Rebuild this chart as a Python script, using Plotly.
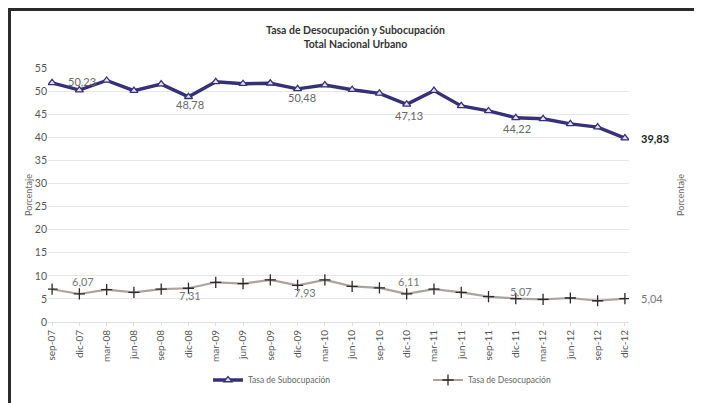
import plotly.graph_objects as go

categories = ["sep-07", "dic-07", "mar-08", "jun-08", "sep-08", "dic-08", "mar-09", "jun-09",
              "sep-09", "dic-09", "mar-10", "jun-10", "sep-10", "dic-10", "mar-11", "jun-11",
              "sep-11", "dic-11", "mar-12", "jun-12", "sep-12", "dic-12"]
subocupacion = [51.8, 50.23, 52.3, 50.1, 51.5, 48.78, 52.0, 51.6, 51.7, 50.48, 51.3, 50.3,
                49.5, 47.13, 50.1, 46.8, 45.7, 44.22, 44.0, 42.9, 42.2, 39.83]
desocupacion = [7.1, 6.07, 7.0, 6.4, 7.1, 7.31, 8.6, 8.3, 9.1, 7.93, 9.1, 7.7, 7.4, 6.11,
                7.1, 6.4, 5.5, 5.07, 4.9, 5.2, 4.6, 5.04]
y_ticks = [0, 5, 10, 15, 20, 25, 30, 35, 40, 45, 50, 55]

title_lines = ["Tasa de Desocupación y Subocupación", "Total Nacional Urbano"]
name_sub = "Tasa de Subocupación"
name_des = "Tasa de Desocupación"
axis_title = "Porcentaje"

# labelled points: index -> (xshift, yshift, anchor)
sub_labels = {1: (3, 9, "center"), 5: (2, -8, "center"), 9: (4, -9, "center"),
              13: (2, -11, "center"), 17: (1, -11, "center"), 21: (14, 0, "left")}
des_labels = {1: (4, 12, "center"), 5: (2, -7, "center"), 9: (7, -7, "center"),
              13: (2, 12, "center"), 17: (5, 7, "center"), 21: (14, 0, "left")}

FONT = "Lato, 'Open Sans', sans-serif"

W, H = 702, 403
ML, MR, MT, MB = 40, 81, 60, 89
PW, PH = W - ML - MR, H - MT - MB


def px_x(p):
    return (p - ML) / PW


def px_y(p):
    return (H - MB - p) / PH


fig = go.Figure()
fig.add_trace(go.Scatter(
    x=categories, y=subocupacion, name=name_sub, mode="lines+markers",
    line=dict(color="#363078", width=3.4),
    marker=dict(symbol="triangle-up", size=7, color="#e4e2f2",
                line=dict(color="#363078", width=1.3)),
))
fig.add_trace(go.Scatter(
    x=categories, y=desocupacion, name=name_des, mode="lines+markers",
    line=dict(color="#ada2a2", width=2.2),
    marker=dict(symbol="cross-thin", size=8, color="#2a2a2a",
                line=dict(color="#2a2a2a", width=1.3)),
))


def fmt(v):
    return f"{v:.2f}".replace(".", ",")


ann = []
for idx, (dx, dy, anc) in sub_labels.items():
    last = idx == len(categories) - 1
    txt = fmt(subocupacion[idx])
    ann.append(dict(x=categories[idx], y=subocupacion[idx],
                    text=("<b>" + txt + "</b>") if last else txt,
                    showarrow=False, xshift=dx, yshift=dy, xanchor=anc,
                    font=dict(family=FONT, size=11,
                              color="#222222" if last else "#666666")))
for idx, (dx, dy, anc) in des_labels.items():
    ann.append(dict(x=categories[idx], y=desocupacion[idx], text=fmt(desocupacion[idx]),
                    showarrow=False, xshift=dx, yshift=dy, xanchor=anc,
                    font=dict(family=FONT, size=11, color="#777777")))

ann.append(dict(xref="paper", yref="paper", x=px_x(347), y=px_y(29.5),
                text="<b>" + "<br>".join(title_lines) + "</b>",
                showarrow=False, yanchor="middle", xanchor="center",
                font=dict(family=FONT, size=10.5, color="#333333")))
ann.append(dict(xref="paper", yref="paper", x=px_x(20), y=0.5, text=axis_title, textangle=-90,
                showarrow=False, xanchor="center", font=dict(family=FONT, size=9, color="#666666")))
ann.append(dict(xref="paper", yref="paper", x=px_x(672), y=0.5, text=axis_title, textangle=-90,
                showarrow=False, xanchor="center", font=dict(family=FONT, size=9, color="#666666")))

fig.update_layout(
    width=W, height=H,
    margin=dict(l=ML, r=MR, t=MT, b=MB, autoexpand=False),
    paper_bgcolor="white", plot_bgcolor="white",
    font=dict(family=FONT, color="#555555"),
    showlegend=True,
    legend=dict(orientation="h", x=px_x(200), xanchor="left", y=px_y(372), yanchor="middle",
                font=dict(family=FONT, size=8.5, color="#666666"),
                entrywidth=175, entrywidthmode="pixels", tracegroupgap=0,
                bgcolor="rgba(0,0,0,0)"),
    annotations=ann,
    shapes=[dict(type="rect", xref="paper", yref="paper", x0=px_x(1.5), x1=1.3,
                 y0=-0.6, y1=px_y(1.5), line=dict(color="#2b2b2b", width=3),
                 fillcolor="rgba(0,0,0,0)", layer="below")],
)
fig.update_xaxes(type="category", range=[-0.15, 21.15], tickangle=-90, showgrid=False,
                 showline=True, linecolor="#dddddd", linewidth=1, ticks="outside", ticklen=3,
                 tickcolor="#dddddd", tickfont=dict(family=FONT, size=10, color="#555555"),
                 automargin=False)
fig.update_yaxes(range=[0, 55], tickvals=y_ticks, showgrid=True, gridcolor="#e6e6e6",
                 zeroline=False, showline=False, ticks="", automargin=False,
                 tickfont=dict(family=FONT, size=10.5, color="#555555"))

fig.write_html("out.html")
